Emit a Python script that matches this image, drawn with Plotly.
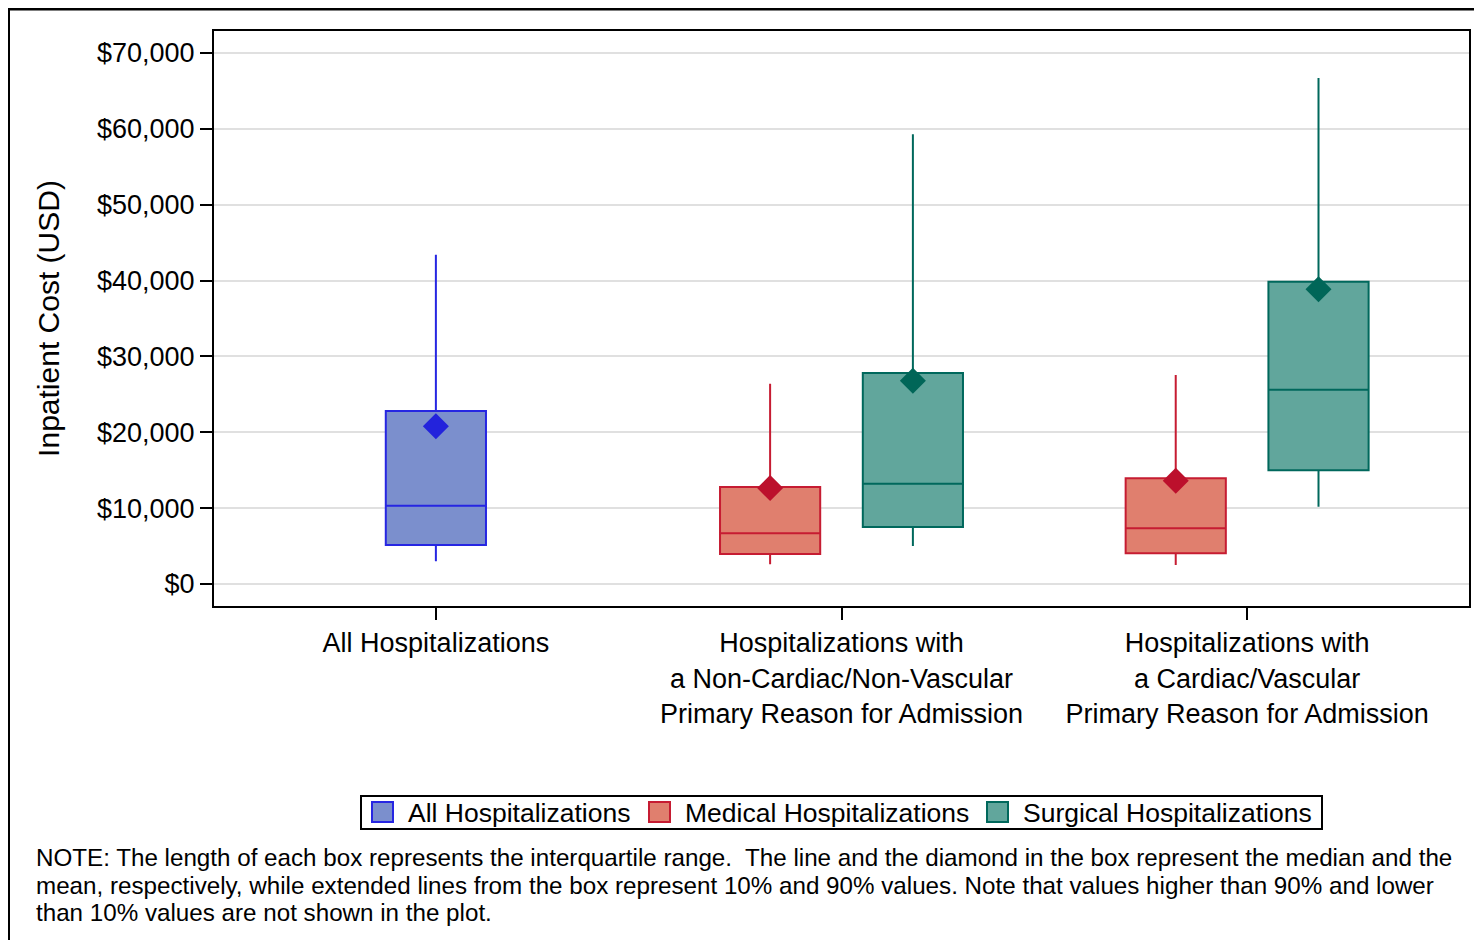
import plotly.graph_objects as go

# ---- data (USD) ----
categories = ["All Hospitalizations",
              "Hospitalizations with<br>a Non-Cardiac/Non-Vascular<br>Primary Reason for Admission",
              "Hospitalizations with<br>a Cardiac/Vascular<br>Primary Reason for Admission"]
series_names = ["All Hospitalizations", "Medical Hospitalizations", "Surgical Hospitalizations"]

# per series: which categories they appear in (index into categories)
all_cat = [0]
all_p10 = [3000]
all_q1 = [5150]
all_median = [10300]
all_q3 = [22800]
all_p90 = [43400]
all_mean = [20800]

med_cat = [1, 2]
med_p10 = [2600, 2500]
med_q1 = [3950, 4050]
med_median = [6700, 7350]
med_q3 = [12800, 13950]
med_p90 = [26400, 27550]
med_mean = [12650, 13600]

surg_cat = [1, 2]
surg_p10 = [5000, 10200]
surg_q1 = [7500, 15000]
surg_median = [13200, 25600]
surg_q3 = [27800, 39850]
surg_p90 = [59300, 66700]
surg_mean = [26800, 38850]

y_ticks = [0, 10000, 20000, 30000, 40000, 50000, 60000, 70000]
y_ticklabels = ["$0", "$10,000", "$20,000", "$30,000", "$40,000", "$50,000", "$60,000", "$70,000"]

note_lines = [
    "NOTE: The length of each box represents the interquartile range.  The line and the diamond in the box represent the median and the",
    "mean, respectively, while extended lines from the box represent 10% and 90% values. Note that values higher than 90% and lower",
    "than 10% values are not shown in the plot.",
]

# ---- styling ----
FONT = "Liberation Sans, Arial, sans-serif"
PAGE_OFF = 8  # default body margin of the html page
W, H = 1482 - PAGE_OFF, 940 - PAGE_OFF
L, R, T, B = 206, 13, 23, 334
PW, PH = W - L - R, H - T - B
BOXW = 0.247
OFF = 0.176

styles = {
    "All Hospitalizations": dict(fill="rgb(123,143,205)", line="rgb(38,38,226)", mean="rgb(35,35,220)", off=0.0),
    "Medical Hospitalizations": dict(fill="rgb(224,127,110)", line="rgb(198,28,50)", mean="rgb(188,16,44)", off=-OFF),
    "Surgical Hospitalizations": dict(fill="rgb(97,166,156)", line="rgb(0,104,92)", mean="rgb(0,102,88)", off=OFF),
}

series = [
    (series_names[0], all_cat, all_p10, all_q1, all_median, all_q3, all_p90, all_mean),
    (series_names[1], med_cat, med_p10, med_q1, med_median, med_q3, med_p90, med_mean),
    (series_names[2], surg_cat, surg_p10, surg_q1, surg_median, surg_q3, surg_p90, surg_mean),
]


def px_x(page_x):
    return (page_x - PAGE_OFF - L) / PW


def px_y(page_y):
    return (H - B - (page_y - PAGE_OFF)) / PH


fig = go.Figure()
for name, cats, p10, q1, med, q3, p90, mean in series:
    st = styles[name]
    xs = [c + st["off"] for c in cats]
    fig.add_trace(go.Box(
        name=name, x=xs, q1=q1, median=med, q3=q3, lowerfence=p10, upperfence=p90,
        width=BOXW, whiskerwidth=0, boxpoints=False,
        fillcolor=st["fill"], line=dict(color=st["line"], width=2),
        hoverinfo="skip", showlegend=False,
    ))
    fig.add_trace(go.Scatter(
        x=xs, y=mean, mode="markers", showlegend=False, hoverinfo="skip", name=name + " mean",
        marker=dict(symbol="diamond", size=20, color=st["mean"], line=dict(width=0)),
    ))

# ---- legend (drawn to match the reference's box legend) ----
fig.add_shape(type="rect", xref="paper", yref="paper",
              x0=px_x(361), x1=px_x(1322), y0=px_y(796), y1=px_y(829),
              line=dict(color="black", width=2), fillcolor="white", layer="above")
legend_sym_x = [372, 649, 987]
legend_txt_x = [406, 683, 1021]
for name, sx, tx in zip(series_names, legend_sym_x, legend_txt_x):
    st = styles[name]
    fig.add_shape(type="rect", xref="paper", yref="paper",
                  x0=px_x(sx), x1=px_x(sx + 21), y0=px_y(802), y1=px_y(822),
                  line=dict(color=st["line"], width=2), fillcolor=st["fill"], layer="above")
    fig.add_annotation(text=name, xref="paper", yref="paper", x=px_x(tx), y=px_y(813),
                       xanchor="left", yanchor="middle", showarrow=False,
                       font=dict(family=FONT, size=26.5, color="black"))

# ---- note ----
for line, cy in zip(note_lines, [857, 885, 912]):
    fig.add_annotation(text=line, xref="paper", yref="paper", x=px_x(34), y=px_y(cy),
                       xanchor="left", yanchor="middle", align="left", showarrow=False,
                       font=dict(family=FONT, size=24.2, color="black"))

# outer frame
fig.add_shape(type="rect", xref="paper", yref="paper",
              x0=px_x(8.5), x1=px_x(1500), y0=px_y(9), y1=px_y(960),
              line=dict(color="black", width=3), fillcolor="rgba(0,0,0,0)", layer="above")

fig.update_layout(
    width=W, height=H, margin=dict(l=L, r=R, t=T, b=B, pad=0),
    paper_bgcolor="white", plot_bgcolor="white",
    font=dict(family=FONT, size=26, color="black"),
    boxmode="overlay", showlegend=False,
    xaxis=dict(range=[-0.547, 2.547], tickvals=[0, 1, 2], ticktext=categories,
               ticks="outside", ticklen=12, tickwidth=2, tickcolor="black",
               showgrid=False, zeroline=False, showline=True, linecolor="black", linewidth=2, mirror=True,
               tickfont=dict(size=27)),
    yaxis=dict(range=[-2900, 72900], tickvals=y_ticks, ticktext=y_ticklabels,
               ticks="outside", ticklen=12, tickwidth=2, tickcolor="black",
               showgrid=True, gridcolor="rgb(224,224,224)", gridwidth=2, zeroline=False,
               showline=True, linecolor="black", linewidth=2, mirror=True,
               title=dict(text="Inpatient Cost (USD)", standoff=28, font=dict(size=30)),
               tickfont=dict(size=27)),
)

fig.write_html("out.html")
